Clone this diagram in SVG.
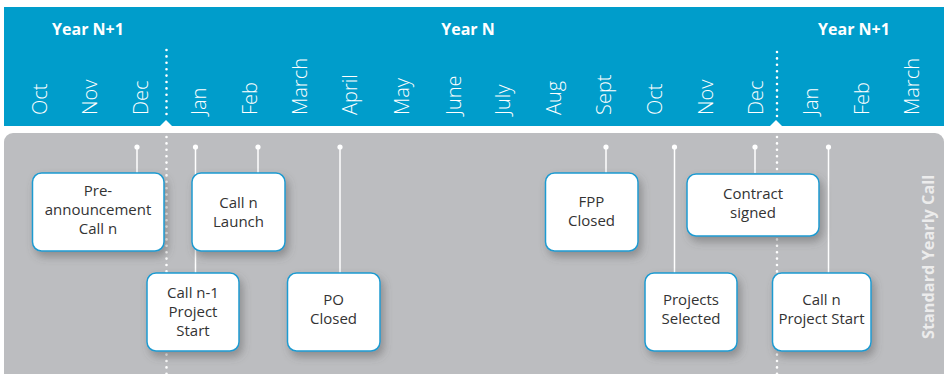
<svg xmlns="http://www.w3.org/2000/svg" width="947" height="374" viewBox="0 0 947 374">
<defs>
<filter id="sh" x="-20%" y="-20%" width="150%" height="160%">
<feDropShadow dx="3" dy="5" stdDeviation="4" flood-color="#555" flood-opacity="0.45"/>
</filter>
<style>
.yr{font-family:"Open Sans","Liberation Sans",sans-serif;font-weight:700;font-size:16px;fill:#fff;text-anchor:middle}
.mo{font-family:"Open Sans","Liberation Sans",sans-serif;font-weight:300;font-size:20px;fill:#fff}
.box{fill:#fff;stroke:#1d9bd1;stroke-width:1.5;filter:url(#sh)}
.bt{font-family:"Open Sans","Liberation Sans",sans-serif;font-size:15px;fill:#333;text-anchor:middle}
.tick{stroke:#fff;stroke-width:1.5;fill:none}
.dot{fill:#fff}
.dots{stroke:#fff;stroke-width:2.6;stroke-linecap:round;stroke-dasharray:0 6.4;fill:none}
.side{font-family:"Open Sans","Liberation Sans",sans-serif;font-weight:700;font-size:16.3px;fill:#ececec}
</style>
</defs>
<rect x="0" y="0" width="947" height="374" fill="#fff"/>
<g id="header">
<rect x="4" y="7" width="940" height="119" fill="#009dcb"/>
<text class="yr" x="88" y="35">Year N+1</text>
<text class="yr" x="468" y="35">Year N</text>
<text class="yr" x="854" y="35">Year N+1</text>
<g class="months">
<text class="mo" transform="translate(47,115) rotate(-90)">Oct</text>
<text class="mo" transform="translate(97,115) rotate(-90)">Nov</text>
<text class="mo" transform="translate(148,115) rotate(-90)">Dec</text>
<text class="mo" transform="translate(206,115) rotate(-90)">Jan</text>
<text class="mo" transform="translate(257,115) rotate(-90)">Feb</text>
<text class="mo" transform="translate(307,115) rotate(-90)">March</text>
<text class="mo" transform="translate(357,115) rotate(-90)">April</text>
<text class="mo" transform="translate(409,115) rotate(-90)">May</text>
<text class="mo" transform="translate(461,115) rotate(-90)">June</text>
<text class="mo" transform="translate(510,115) rotate(-90)">July</text>
<text class="mo" transform="translate(561,115) rotate(-90)">Aug</text>
<text class="mo" transform="translate(611,115) rotate(-90)">Sept</text>
<text class="mo" transform="translate(662,115) rotate(-90)">Oct</text>
<text class="mo" transform="translate(713,115) rotate(-90)">Nov</text>
<text class="mo" transform="translate(763,115) rotate(-90)">Dec</text>
<text class="mo" transform="translate(818,115) rotate(-90)">Jan</text>
<text class="mo" transform="translate(869,115) rotate(-90)">Feb</text>
<text class="mo" transform="translate(919,115) rotate(-90)">March</text>
</g>
<polygon points="159,127 166,120 173,127" fill="#fff"/>
<polygon points="769,127 776,120 783,127" fill="#fff"/>
</g>
<g id="panel">
<rect x="4" y="133" width="940" height="260" rx="9" fill="#bcbdc0"/>
<text class="side" transform="translate(934,339) rotate(-90)">Standard Yearly Call</text>
</g>
<g id="year-dividers">
<line class="dots" x1="166.5" y1="50" x2="166.5" y2="118"/>
<line class="dots" x1="166.5" y1="137" x2="166.5" y2="374"/>
<line class="dots" x1="777" y1="52" x2="777" y2="118"/>
<line class="dots" x1="777" y1="137" x2="777" y2="374"/>
</g>
<g id="connectors">
<line class="tick" x1="137" y1="147" x2="137" y2="173"/><circle class="dot" cx="137" cy="147" r="2.6"/>
<line class="tick" x1="195.5" y1="147" x2="195.5" y2="273"/><circle class="dot" cx="195.5" cy="147" r="2.6"/>
<line class="tick" x1="258" y1="147" x2="258" y2="173"/><circle class="dot" cx="258" cy="147" r="2.6"/>
<line class="tick" x1="340" y1="147" x2="340" y2="273"/><circle class="dot" cx="340" cy="147" r="2.6"/>
<line class="tick" x1="606" y1="147" x2="606" y2="173"/><circle class="dot" cx="606" cy="147" r="2.6"/>
<line class="tick" x1="674.5" y1="147" x2="674.5" y2="273"/><circle class="dot" cx="674.5" cy="147" r="2.6"/>
<line class="tick" x1="755" y1="147" x2="755" y2="173"/><circle class="dot" cx="755" cy="147" r="2.6"/>
<line class="tick" x1="828.5" y1="147" x2="828.5" y2="273"/><circle class="dot" cx="828.5" cy="147" r="2.6"/>
</g>
<g id="pre-announcement">
<rect class="box" x="32.5" y="173" width="131.5" height="78" rx="9"/>
<text class="bt" x="98" y="196">Pre-</text>
<text class="bt" x="98" y="215">announcement</text>
<text class="bt" x="98" y="234">Call n</text>
</g>
<g id="call-n-launch">
<rect class="box" x="192" y="173" width="93" height="78" rx="9"/>
<text class="bt" x="238.5" y="208">Call n</text>
<text class="bt" x="238.5" y="227">Launch</text>
</g>
<g id="call-n1-project-start">
<rect class="box" x="147" y="273" width="92" height="78" rx="9"/>
<text class="bt" x="193" y="298">Call n-1</text>
<text class="bt" x="193" y="317">Project</text>
<text class="bt" x="193" y="336">Start</text>
</g>
<g id="po-closed">
<rect class="box" x="287.5" y="273" width="92.5" height="78" rx="9"/>
<text class="bt" x="333.5" y="305">PO</text>
<text class="bt" x="333.5" y="324">Closed</text>
</g>
<g id="fpp-closed">
<rect class="box" x="545.5" y="173" width="92.5" height="78" rx="9"/>
<text class="bt" x="591.5" y="207">FPP</text>
<text class="bt" x="591.5" y="226">Closed</text>
</g>
<g id="contract-signed">
<rect class="box" x="687" y="174" width="132" height="62" rx="9"/>
<text class="bt" x="753" y="199">Contract</text>
<text class="bt" x="753" y="218">signed</text>
</g>
<g id="projects-selected">
<rect class="box" x="645" y="273" width="92" height="78" rx="9"/>
<text class="bt" x="691" y="305">Projects</text>
<text class="bt" x="691" y="324">Selected</text>
</g>
<g id="call-n-project-start">
<rect class="box" x="772.5" y="273" width="98.5" height="78" rx="9"/>
<text class="bt" x="821.5" y="305">Call n</text>
<text class="bt" x="821.5" y="324">Project Start</text>
</g>
</svg>
